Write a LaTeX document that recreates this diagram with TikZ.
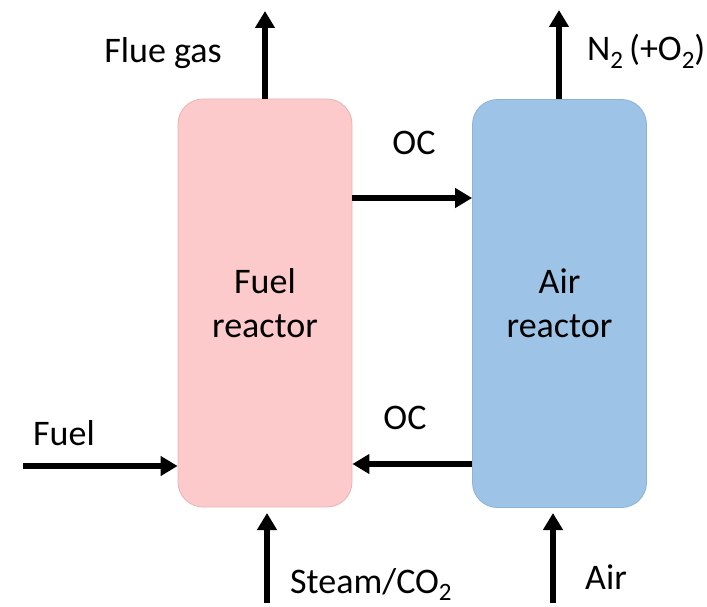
\documentclass[tikz,border=0pt]{standalone}
\usepackage{fontspec}
\setmainfont{Carlito}
\usepackage{tikz}
\usetikzlibrary{arrows.meta}

\definecolor{fuelpink}{HTML}{FCCACA}
\definecolor{fueledge}{HTML}{E8B4B4}
\definecolor{airblue}{HTML}{9DC3E6}
\definecolor{airedge}{HTML}{8CB2D6}
\newcommand{\chemsub}[1]{\raisebox{-0.2em}{\fontsize{25}{25}\selectfont #1}}

\tikzset{
  reactor/.style={rounded corners=25pt, minimum width=174pt, minimum height=408pt,
    line width=0.8pt, align=center, font=\fontsize{36}{44}\selectfont},
  flow/.style={line width=5.5pt, -{Triangle[length=17pt, width=19pt]}},
  lbl/.style={font=\fontsize{36}{44}\selectfont, inner sep=0pt}
}

\begin{document}
\begin{tikzpicture}[x=1pt, y=-1pt]
  \useasboundingbox (0,0) rectangle (707,607);

  % ── reactors ──
  \node[reactor, fill=fuelpink, draw=fueledge] (fuel) at (265,303) {Fuel\\reactor};
  \node[reactor, fill=airblue, draw=airedge] (air) at (559.5,303.5) {Air\\reactor};

  % ── free ends ──
  \coordinate (fluetip) at (265,11);
  \coordinate (n2tip) at (559,10);
  \coordinate (fuelin) at (23,466);
  \coordinate (steamin) at (267,603);
  \coordinate (airin) at (553,603);
  \coordinate (octop) at (412,198);
  \coordinate (ocbot) at (412,464);

  % ── streams ──
  \draw[flow] (fuelin) -- (fuelin -| fuel.west);
  \draw[flow] (steamin) -- (steamin |- 0,513);
  \draw[flow] (airin) -- (airin |- 0,513);
  \draw[flow] (fuel.north) -- (fluetip);
  \draw[flow] (n2tip |- air.north) -- (n2tip);
  \draw[flow] (octop -| fuel.east) -- (octop -| air.west);
  \draw[flow] (ocbot -| air.west) -- (ocbot -| fuel.east);

  % ── labels ──
  \node[lbl, anchor=base east] (fluelbl) at (222,63) {Flue gas};
  \node[lbl, anchor=base west] (n2lbl) at (587,61) {N\chemsub{2}\,(+O\chemsub{2})};
  \node[lbl, anchor=base] (octoplbl) at (414,155) {OC};
  \node[lbl, anchor=base] (ocbotlbl) at (405,429) {OC};
  \node[lbl, anchor=base west] (fuellbl) at (33,445) {Fuel};
  \node[lbl, anchor=base west] (steamlbl) at (290,593) {Steam/CO\chemsub{2}};
  \node[lbl, anchor=base west] (airlbl) at (585,589) {Air};
\end{tikzpicture}
\end{document}
